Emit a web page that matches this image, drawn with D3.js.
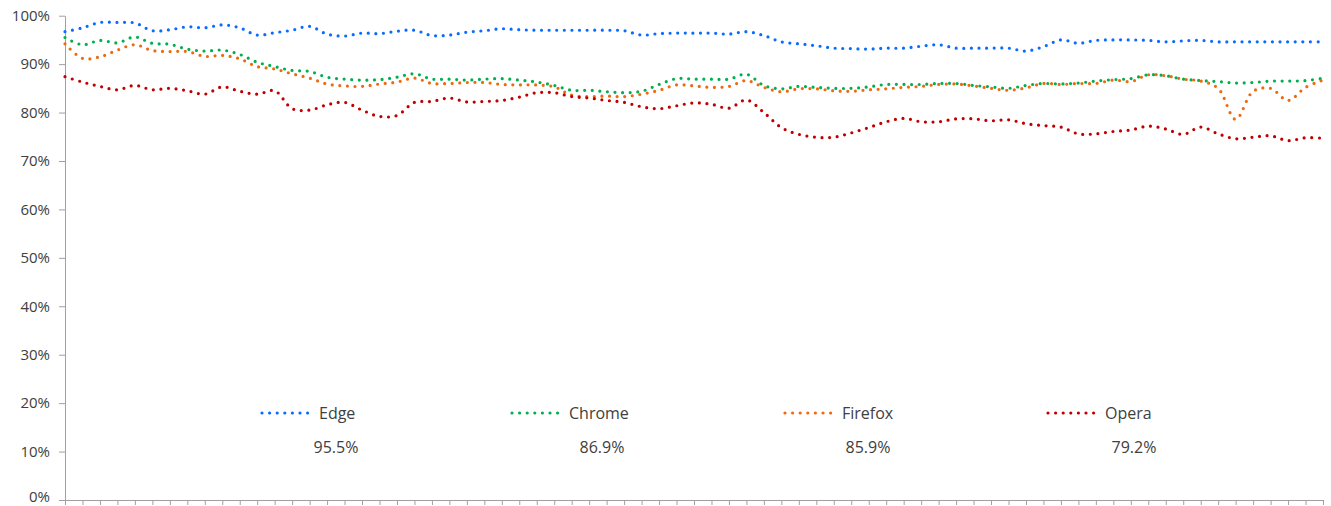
<!DOCTYPE html>
<html>
<head>
<meta charset="utf-8">
<script src="https://cdn.jsdelivr.net/npm/d3@7"></script>
<style>
  html, body { margin: 0; padding: 0; background: #fff; }
  svg { display: block; font-family: "Open Sans", sans-serif; }
</style>
</head>
<body>
<svg id="chart" width="1331" height="506"></svg>
<script>
// ---- data ----
const categories = d3.range(73); // 73 periods (unlabelled category axis)
const seriesNames = ["Edge", "Chrome", "Firefox", "Opera"];
const averageLabels = ["95.5%", "86.9%", "85.9%", "79.2%"];
const yTicks = [0, 10, 20, 30, 40, 50, 60, 70, 80, 90, 100];

const edge = [96.7,97.5,98.6,98.6,98.5,96.9,97.1,97.7,97.5,98.1,97.5,96.0,96.5,97.0,97.8,96.2,95.8,96.4,96.3,96.8,
  97.0,95.9,96.0,96.6,96.9,97.3,97.1,97.0,97.0,97.0,97.0,97.0,96.9,96.0,96.3,96.4,96.4,96.4,96.2,96.7,
  95.9,94.6,94.2,93.8,93.3,93.2,93.1,93.3,93.3,93.7,94.0,93.3,93.3,93.3,93.3,92.7,93.6,95.0,94.3,94.9,
  95.0,95.0,94.9,94.6,94.8,94.9,94.6,94.6,94.6,94.6,94.6,94.6,94.6];
const chrome = [95.5,94.0,94.9,94.4,95.6,94.3,94.1,93.1,92.7,92.9,92.0,90.4,89.5,88.7,88.5,87.3,86.9,86.7,86.8,87.3,
  88.0,86.9,86.9,86.7,86.9,87.0,86.7,86.3,85.6,84.6,84.6,84.3,84.1,84.4,85.8,87.0,86.9,86.9,86.9,87.9,
  85.6,84.9,85.4,85.2,85.0,85.0,85.3,85.8,85.8,85.8,86.0,86.0,85.6,85.3,85.0,85.6,86.0,85.9,86.1,86.5,
  86.8,87.0,87.8,87.6,86.9,86.6,86.4,86.1,86.2,86.5,86.5,86.6,87.1];
const firefox = [94.2,91.2,91.5,92.9,94.0,92.8,92.6,92.6,91.6,91.8,91.1,89.5,89.0,88.0,87.1,85.9,85.5,85.4,85.9,86.3,
  87.1,86.0,86.0,86.2,86.2,85.8,85.7,85.7,85.3,83.6,83.3,83.4,83.3,83.8,84.6,85.7,85.5,85.2,85.4,86.6,
  85.2,84.3,84.9,84.9,84.5,84.4,84.7,84.9,85.2,85.4,85.8,85.9,85.5,85.0,84.6,85.1,86.0,85.8,86.0,86.0,
  86.7,86.4,87.8,87.6,86.9,86.5,85.0,78.6,84.4,85.0,82.5,85.2,86.7];
const opera = [87.4,86.3,85.4,84.7,85.6,84.7,85.0,84.5,83.8,85.3,84.4,83.8,84.5,80.8,80.5,81.6,82.1,80.5,79.2,79.4,
  82.1,82.3,83.0,82.2,82.3,82.5,83.2,84.1,84.1,83.3,83.0,82.5,82.1,81.2,80.8,81.4,82.0,81.7,80.9,82.6,
  80.0,76.9,75.5,74.9,74.9,75.8,76.9,78.1,78.8,78.1,78.1,78.7,78.7,78.3,78.5,77.7,77.3,77.0,75.6,75.6,
  76.1,76.4,77.2,76.6,75.5,77.0,75.6,74.6,74.9,75.2,74.2,74.8,74.7];

const seriesValues = [edge, chrome, firefox, opera];
const colors = ["#0A6CFF", "#00B050", "#EE6A0E", "#C00000"];

// ---- layout ----
const svg = d3.select("#chart");
const M = { left: 65, right: 1323, top: 15.7, bottom: 500 };
const textColor = "#404040";
const axisColor = "#A0A0A0";

const x = d3.scalePoint().domain(categories).range([M.left, M.right]);
const y = d3.scaleLinear().domain([0, 100]).range([M.bottom, M.top]);

// y axis
const yAxis = d3.axisLeft(y).tickValues(yTicks).tickSize(6).tickSizeOuter(0).tickPadding(9)
  .tickFormat(d => d + "%");
const gy = svg.append("g").attr("transform", `translate(${M.left},0)`).call(yAxis);
gy.select(".domain").attr("stroke", axisColor);
gy.selectAll(".tick line").attr("stroke", axisColor);
gy.selectAll(".tick text").attr("fill", textColor).style("font-size", "15px")
  .style("font-family", "'Open Sans', sans-serif")
  .attr("y", d => d === 0 ? -3.5 : 0);

// x axis
const xAxis = d3.axisBottom(x).tickSize(5).tickSizeOuter(0).tickFormat("");
const gx = svg.append("g").attr("transform", `translate(0,${M.bottom})`).call(xAxis);
gx.select(".domain").attr("stroke", axisColor);
gx.selectAll(".tick line").attr("stroke", axisColor);

// lines
const line = d3.line()
  .x((d, i) => x(categories[i]))
  .y(d => y(d))
  .curve(d3.curveCatmullRom.alpha(0.5));

svg.append("g").selectAll("path")
  .data(seriesValues)
  .join("path")
  .attr("d", d => line(d))
  .attr("fill", "none")
  .attr("stroke", (d, i) => colors[i])
  .attr("stroke-width", 3.2)
  .attr("stroke-linecap", "round")
  .attr("stroke-dasharray", "0 7.6");

// legend
const legendX = [262, 512, 785, 1048];
const legendY = 413;
const lg = svg.append("g").selectAll("g")
  .data(seriesNames)
  .join("g")
  .attr("transform", (d, i) => `translate(${legendX[i]},${legendY})`);
lg.append("line")
  .attr("x1", 0).attr("x2", 50).attr("y1", 0).attr("y2", 0)
  .attr("stroke", (d, i) => colors[i])
  .attr("stroke-width", 3.2)
  .attr("stroke-linecap", "round")
  .attr("stroke-dasharray", "0 7.6");
lg.append("text")
  .attr("x", 57).attr("y", 0).attr("dy", "0.35em")
  .attr("fill", textColor)
  .style("font-size", "16px")
  .text(d => d);

// average labels
const pctX = d3.scalePoint().domain(seriesNames).range([336, 1134]);
svg.append("g").selectAll("text")
  .data(averageLabels)
  .join("text")
  .attr("x", (d, i) => pctX(seriesNames[i]))
  .attr("y", 447).attr("dy", "0.35em")
  .attr("text-anchor", "middle")
  .attr("fill", textColor)
  .style("font-size", "16px")
  .text(d => d);
</script>
</body>
</html>
